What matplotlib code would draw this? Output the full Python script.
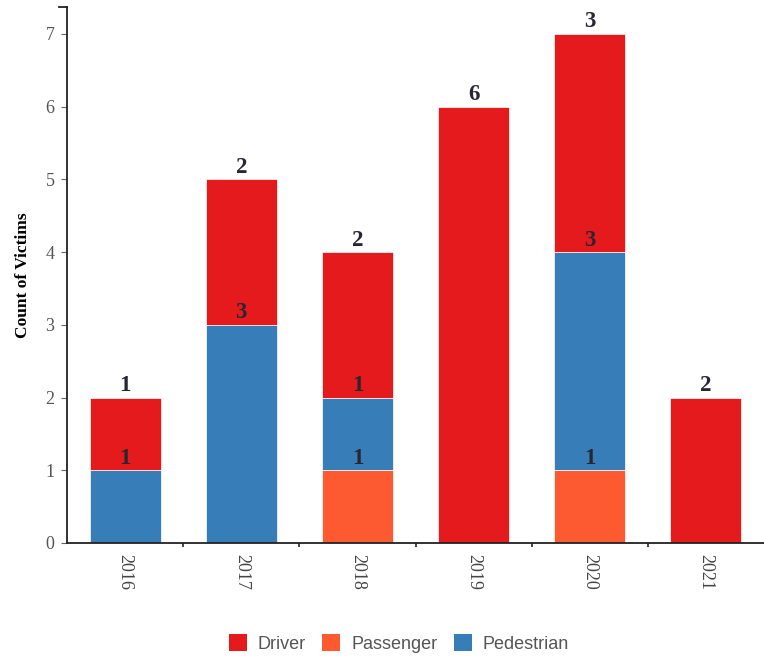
import numpy as np
import matplotlib
matplotlib.use('Agg')
from matplotlib import pyplot as plt
from matplotlib.lines import Line2D
from matplotlib.patches import Patch

# 数据
years = ['2016', '2017', '2018', '2019', '2020', '2021']
passenger = [0, 0, 1, 0, 1, 0]
pedestrian = [1, 3, 1, 0, 3, 0]
driver = [1, 2, 2, 6, 3, 2]

series_names = ['Passenger', 'Pedestrian', 'Driver']
series_vals = [passenger, pedestrian, driver]
colors = {'Driver': '#e41a1c', 'Passenger': '#fe5a31', 'Pedestrian': '#377eb8'}

fig = plt.figure(figsize=(7.64, 6.58), dpi=100)
ax = fig.add_axes([0.0877, 0.1748, 0.9123, 0.8146])

x = np.arange(len(years))
bottom = np.zeros(len(years))
for name, vals in zip(series_names, series_vals):
    vals = np.asarray(vals, dtype=float)
    ax.bar(x, vals, width=0.61, bottom=bottom, color=colors[name],
           edgecolor='white', linewidth=0.5, zorder=2)
    for xi, b, v in zip(x, bottom, vals):
        if v > 0:
            ax.text(xi, b + v + 0.02, f'{int(v)}', ha='center', va='bottom',
                    family='Liberation Serif', fontweight='bold', fontsize=16.5,
                    color='#2a2533', zorder=4)
    bottom += vals

ax.set_xlim(-0.5, len(years) - 0.5)
ax.set_ylim(0, 7.37)

ax.set_xticks(x)
ax.set_xticklabels(years, rotation=-90, family='Liberation Serif',
                   fontsize=13, color='#444444')
ax.set_xticks(x[:-1] + 0.5, minor=True)
ax.tick_params(axis='x', which='major', length=0, pad=8)
ax.tick_params(axis='x', which='minor', length=3, width=1.2,
               color='#222222', direction='out')
ax.set_yticks(range(0, 8))
ax.set_yticklabels([str(i) for i in range(0, 8)], family='Liberation Serif',
                   fontsize=13, color='#555555')
ax.tick_params(axis='y', length=4, width=0.8, color='#666666', pad=5)

for side in ['top', 'right']:
    ax.spines[side].set_visible(False)
for side in ['left', 'bottom']:
    ax.spines[side].set_color('#222222')
    ax.spines[side].set_linewidth(1.3)

# 顶部外刻度 (d3 风格)
ax.add_line(Line2D([-0.012, 0], [1, 1], transform=ax.transAxes,
                   color='#222222', linewidth=1.3, clip_on=False))

ax.set_ylabel('Count of Victims', family='Liberation Serif',
              fontweight='bold', fontsize=12.5, color='black', labelpad=10)

handles = [Patch(facecolor=colors[n], edgecolor='none') for n in
           ['Driver', 'Passenger', 'Pedestrian']]
leg = fig.legend(handles, ['Driver', 'Passenger', 'Pedestrian'],
                 loc='center', bbox_to_anchor=(0.522, 0.022), ncol=3,
                 frameon=False, handlelength=1.0, handleheight=1.0,
                 handletextpad=0.6, columnspacing=0.9,
                 prop={'family': 'Liberation Sans', 'size': 13})
for t in leg.get_texts():
    t.set_color('#555555')

fig.savefig('out.png', dpi=100)
